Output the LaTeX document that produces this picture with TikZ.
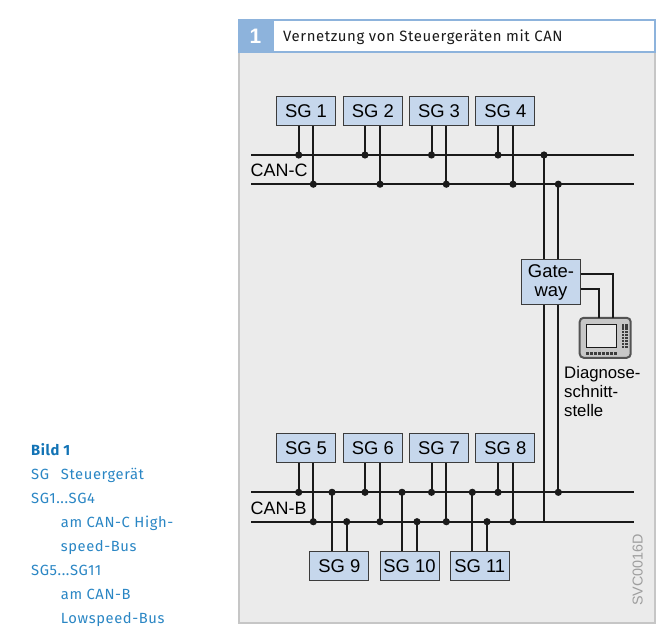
\documentclass[tikz,border=0pt]{standalone}
\usepackage{fontspec}
\setmainfont{Liberation Sans}
\newfontfamily\capfont[LetterSpace=4]{Fira Sans}
\definecolor{panelgrey}{HTML}{EBEBEB}
\definecolor{framegrey}{HTML}{C6C6C6}
\definecolor{headblue}{HTML}{8DB3DC}
\definecolor{boxblue}{HTML}{C6D7EC}
\definecolor{capblue}{HTML}{2A86C4}
\definecolor{capbold}{HTML}{1273B5}
\definecolor{ink}{HTML}{1A1A1A}
\tikzset{
  sgbox/.style={draw=ink!85,line width=1bp,outer sep=0pt,fill=boxblue,minimum width=59bp,minimum height=29.5bp,inner sep=0pt,font=\fontsize{18.5}{20}\selectfont,text=black},
  buswire/.style={draw=ink,line width=2bp},
  stub/.style={draw=ink,line width=2bp},
  jdot/.style={circle,fill=ink,minimum size=7.2bp,inner sep=0pt,outer sep=0pt},
  lbl/.style={inner sep=0pt,font=\fontsize{18}{19}\selectfont,text=black},
  captext/.style={anchor=base west,inner sep=0pt,text=capblue,font=\capfont\fontsize{14.8}{16}\selectfont},
}
\begin{document}
\begin{tikzpicture}[x=1bp,y=-1bp]
\useasboundingbox (0,0) rectangle (663,632);
% frame
\node[draw=framegrey,line width=2bp,fill=panelgrey,outer sep=0pt,minimum width=416bp,minimum height=603bp,inner sep=0pt,anchor=north west] (panel) at (239,20) {};
\node[draw=headblue,line width=2bp,fill=white,outer sep=0pt,minimum width=382bp,minimum height=32.5bp,inner sep=0pt,anchor=north west] (head) at (273,20) {};
\node[fill=headblue,minimum width=35bp,minimum height=34.5bp,inner sep=0pt,outer sep=0pt,anchor=north west,text=white,font=\bfseries\fontsize{21}{21}\selectfont] (num) at (238,19) {1};
\node[anchor=base west,inner sep=0pt,font=\capfont\fontsize{15}{16}\selectfont,text=ink] (title) at (283,42) {Vernetzung von Steuergeräten mit CAN};
% coordinates of bus ends
\coordinate (cAl) at (251,155); \coordinate (cAr) at (634,155);
\coordinate (cBl) at (251,184.2); \coordinate (cBr) at (634,184.2);
\coordinate (bAl) at (251,492.3); \coordinate (bAr) at (634,492.3);
\coordinate (bBl) at (251,521.7); \coordinate (bBr) at (634,521.7);
\coordinate (gwend) at (544,521.7);
% trunk wires
\node[jdot] (t1) at (544,155) {};
\node[jdot] (t2) at (558.3,184.2) {};
\node[jdot] (t3) at (558.3,492.3) {};
\draw[stub] (t1.center) -- (gwend);
\draw[stub] (t2.center) -- (t3.center);
% buses
\draw[buswire] (cAl) -- (cAr);
\draw[buswire] (cBl) -- (cBr);
\draw[buswire] (bAl) -- (bAr);
\draw[buswire] (bBl) -- (bBr);
% upper and lower control units
\foreach \n/\t/\xx/\yy/\ya/\yb/\sa/\sb in {
  1/SG 1/306/110.8/155/184.2/298.7/313.3,
  2/SG 2/372.8/110.8/155/184.2/365/380,
  3/SG 3/439/110.8/155/184.2/431.5/446.3,
  4/SG 4/505.3/110.8/155/184.2/498/513,
  5/SG 5/306/448/492.3/521.7/298.7/313.3,
  6/SG 6/372.8/448/492.3/521.7/365/380,
  7/SG 7/439/448/492.3/521.7/431.5/446.3,
  8/SG 8/505.3/448/492.3/521.7/498/513}{
  \node[jdot] (a\n) at (\sa,\ya) {};
  \node[jdot] (b\n) at (\sb,\yb) {};
  \node[sgbox] (sg\n) at (\xx,\yy) {\t};
  \draw[stub] (a\n.center) -- (a\n.center |- sg\n.south);
  \draw[stub] (b\n.center) -- (b\n.center |- sg\n.south);
}
\foreach \n/\t/\xx/\sa/\sb in {
  9/SG 9/339.3/332/346.7,
  10/SG 10/409.5/402/417,
  11/SG 11/479.7/472.3/487}{
  \node[jdot] (a\n) at (\sa,492.3) {};
  \node[jdot] (b\n) at (\sb,521.7) {};
  \node[sgbox] (sg\n) at (\xx,566.2) {\t};
  \draw[stub] (a\n.center) -- (a\n.center |- sg\n.north);
  \draw[stub] (b\n.center) -- (b\n.center |- sg\n.north);
}
\node[lbl,anchor=base west] (canc) at (250.5,177) {CAN-C};
\node[lbl,anchor=base west] (canb) at (250.5,514) {CAN-B};
% gateway
\node[sgbox,minimum height=44.5bp,align=center,font=\fontsize{18.5}{19}\selectfont] (gw) at (551,282.2) {Gate-\\way};
% diagnosis device
\node[draw=ink!75,line width=2bp,fill=black!22,rounded corners=4bp,outer sep=0pt,minimum width=51bp,minimum height=40bp,inner sep=0pt] (dev) at (605.2,337.8) {};
\draw[stub] (gw.east |- 0,274) -| (613,0 |- dev.north);
\draw[stub] (gw.east |- 0,289.3) -| (598.7,0 |- dev.north);
\node[draw=ink,line width=1bp,fill=panelgrey,outer sep=0pt,minimum width=30bp,minimum height=23bp,inner sep=0pt] (scr) at (601,335.5) {};
\foreach \i in {0,...,7}{\node[fill=ink!85,minimum width=3bp,minimum height=2.6bp,inner sep=0pt,outer sep=0pt] (kb\i) at ({587.5+\i*4},353.5) {};}
\foreach \i in {0,...,7}{
  \node[fill=ink!85,minimum width=2.4bp,minimum height=2.4bp,inner sep=0pt,outer sep=0pt] (kl\i) at (623,{325.5+\i*3.1}) {};
  \node[fill=ink!85,minimum width=2.4bp,minimum height=2.4bp,inner sep=0pt,outer sep=0pt] (kr\i) at (626.4,{325.5+\i*3.1}) {};
}
\node[anchor=north west,inner sep=0pt,align=left,font=\fontsize{16.8}{19.1}\selectfont,text=black] (diag) at (564,366) {Diagnose-\\schnitt-\\stelle};
\node[rotate=90,anchor=base west,inner sep=0pt,text=black!38,font=\fontsize{14.4}{15}\selectfont] (svc) at (642.5,606) {SVC0016D};
% caption
\node[captext,text=capbold,font=\capfont\bfseries\fontsize{14.8}{16}\selectfont] (c0) at (31,455.5) {Bild 1};
\node[captext] (c1) at (31,479.5) {SG};
\node[captext] (c1b) at (60.7,479.5) {Steuergerät};
\node[captext] (c2) at (31,503.5) {SG1...SG4};
\node[captext] (c3) at (60.7,527.7) {am CAN-C High-};
\node[captext] (c4) at (60.7,551.7) {speed-Bus};
\node[captext] (c5) at (31,575.7) {SG5...SG11};
\node[captext] (c6) at (60.7,599.7) {am CAN-B};
\node[captext] (c7) at (60.7,623.7) {Lowspeed-Bus};
\end{tikzpicture}
\end{document}
